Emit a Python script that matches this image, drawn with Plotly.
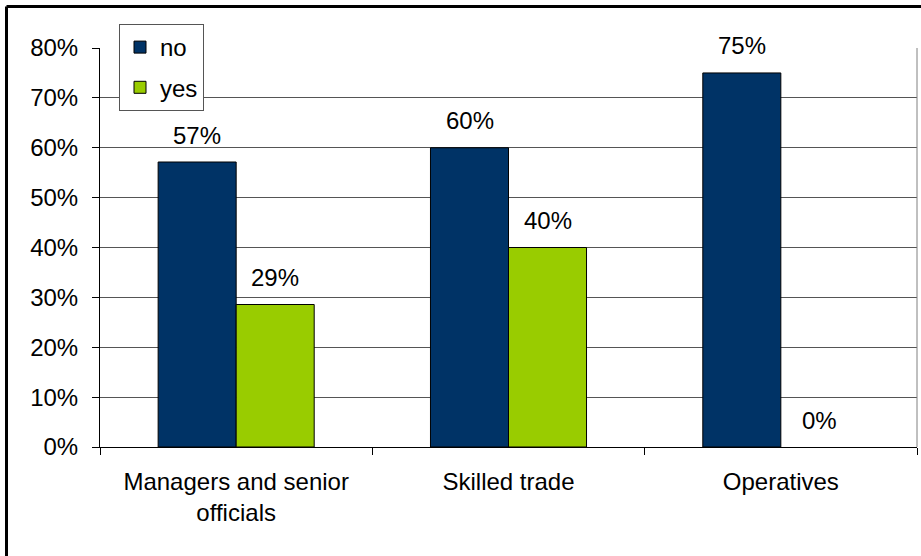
import plotly.graph_objects as go

# Occupation groups and share of respondents answering no / yes
categories = ["Managers and senior<br>officials", "Skilled trade", "Operatives"]
no_values = [0.5714, 0.60, 0.75]
yes_values = [0.2857, 0.40, 0.0]
y_ticks = [0.0, 0.1, 0.2, 0.3, 0.4, 0.5, 0.6, 0.7, 0.8]

NAVY = "#003366"
GREEN = "#99CC00"
FONT = "Arial, Liberation Sans, sans-serif"
FS = 24

W, H = 921, 556
ML, MR, MT, MB = 100, 4, 48, 109
plot_w = W - ML - MR
plot_h = H - MT - MB


def px_to_paper_x(px):
    return (px - ML) / plot_w


def px_to_paper_y(py):
    return (H - MB - py) / plot_h


def outline_widths(values):
    # no outline on zero-height bars, so they do not thicken the axis line
    return [1 if v > 0 else 0 for v in values]


fig = go.Figure()
fig.add_trace(go.Bar(
    name="no", x=categories, y=no_values,
    marker=dict(color=NAVY, line=dict(color="black", width=outline_widths(no_values))),
    legendgroup="no",
))
fig.add_trace(go.Bar(
    name="yes", x=categories, y=yes_values,
    marker=dict(color=GREEN, line=dict(color="black", width=outline_widths(yes_values))),
    legendgroup="yes",
))

# Value labels sitting above each bar
for series, shift in ((no_values, -39), (yes_values, 39)):
    for cat, val in zip(categories, series):
        fig.add_annotation(
            x=cat, y=val, text=f"{round(val * 100)}%",
            showarrow=False, xshift=shift, yshift=27,
            yanchor="middle", xanchor="center",
            font=dict(family=FONT, size=FS, color="black"),
        )

shapes = [
    # plot-area right edge
    dict(type="line", xref="paper", yref="paper", x0=1, x1=1, y0=0, y1=1,
         line=dict(color="#808080", width=1)),
    # chart frame, left and top edges
    dict(type="line", xref="paper", yref="paper",
         x0=px_to_paper_x(6.5), x1=px_to_paper_x(6.5),
         y0=px_to_paper_y(6.5), y1=px_to_paper_y(560),
         line=dict(color="black", width=3)),
    dict(type="line", xref="paper", yref="paper",
         x0=px_to_paper_x(6.5), x1=px_to_paper_x(925),
         y0=px_to_paper_y(6.5), y1=px_to_paper_y(6.5),
         line=dict(color="black", width=3)),
]

fig.update_layout(
    width=W, height=H,
    margin=dict(l=ML, r=MR, t=MT, b=MB, autoexpand=False),
    paper_bgcolor="white", plot_bgcolor="white",
    barmode="group", bargap=0.427, bargroupgap=0,
    font=dict(family=FONT, size=FS, color="black"),
    showlegend=True,
    legend=dict(
        x=px_to_paper_x(119), y=px_to_paper_y(24),
        xanchor="left", yanchor="top",
        bgcolor="white", bordercolor="#555555", borderwidth=1,
        font=dict(family=FONT, size=FS, color="black"),
        traceorder="grouped", tracegroupgap=6,
    ),
    shapes=shapes,
)

fig.update_xaxes(
    showline=True, linecolor="black", linewidth=1,
    ticks="outside", ticklen=7, tickcolor="black", tickson="boundaries",
    ticklabelstandoff=13, showgrid=False,
)
fig.update_yaxes(
    range=[0, 0.8], tickvals=y_ticks, tickformat=".0%",
    showline=True, linecolor="black", linewidth=1,
    ticks="outside", ticklen=7, tickcolor="black",
    ticklabelstandoff=9,
    showgrid=True, gridcolor="#555555", gridwidth=1,
    zeroline=False,
)

fig.write_html("out.html", include_plotlyjs=True)
